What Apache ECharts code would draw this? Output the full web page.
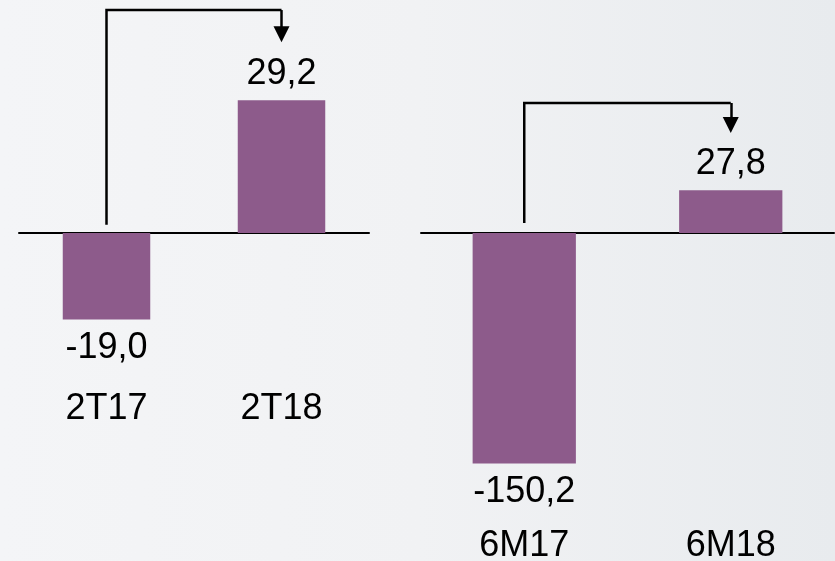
<!DOCTYPE html>
<html>
<head>
<meta charset="utf-8">
<script src="https://cdn.jsdelivr.net/npm/echarts@6/dist/echarts.min.js"></script>
<style>
  html, body { margin: 0; padding: 0; }
  #main { width: 835px; height: 561px; }
</style>
</head>
<body>
<div id="main"></div>
<script>
// trimestre
const quarterCats = ['2T17', '2T18'];
const quarterVals = [-19.0, 29.2];
// semestre
const halfCats = ['6M17', '6M18'];
const halfVals = [-150.2, 27.8];
// flechas (valores en unidades del eje): tramo sin punta + tramo final con punta
const quarterPath = [[0, 1.8], [0, 49], [1, 49]];
const quarterHead = [[1, 49], [1, 43.7]];
const halfPath = [[0, 6.5], [0, 84.7], [1, 84.7]];
const halfHead = [[1, 84.7], [1, 70.4]];

const barColor = '#8d5b8b';
const fontFamily = 'Liberation Sans, Arial, sans-serif';
const fmt = (p) => p.value.toFixed(1).replace('.', ',');

function barSeries(vals, xi, yi) {
  return {
    type: 'bar',
    xAxisIndex: xi,
    yAxisIndex: yi,
    barWidth: '50%',
    data: vals.map(v => ({
      value: v,
      label: { position: v < 0 ? 'bottom' : 'top', distance: v < 0 ? 11 : 8 }
    })),
    itemStyle: { color: barColor },
    label: {
      show: true,
      color: '#000',
      fontSize: 36,
      fontFamily: fontFamily,
      formatter: fmt
    },
    silent: true
  };
}

function lineSeries(coords, xi, yi, head) {
  return {
    type: 'lines',
    coordinateSystem: 'cartesian2d',
    xAxisIndex: xi,
    yAxisIndex: yi,
    polyline: !head,
    clip: false,
    symbol: head ? ['none', 'triangle'] : 'none',
    symbolSize: [15, 16],
    lineStyle: { color: '#000', width: 2.5, opacity: 1, curveness: 0 },
    data: [{ coords: coords }],
    silent: true,
    z: 5
  };
}

const lineAxis = (gi, cats) => ({
  type: 'category',
  gridIndex: gi,
  data: cats,
  axisLine: { onZero: true, lineStyle: { color: '#000', width: 2 } },
  axisTick: { show: false },
  axisLabel: { show: false }
});
const labelAxis = (gi, cats, margin) => ({
  type: 'category',
  gridIndex: gi,
  data: cats,
  position: 'bottom',
  axisLine: { show: false, onZero: false },
  axisTick: { show: false },
  axisLabel: {
    color: '#000',
    fontSize: 36,
    margin: margin,
    fontFamily: fontFamily
  }
});

const chart = echarts.init(document.getElementById('main'));
chart.setOption({
  backgroundColor: {
    type: 'linear', x: 0, y: 0, x2: 1, y2: 0,
    colorStops: [
      { offset: 0, color: '#f4f5f7' },
      { offset: 0.5, color: '#f1f2f4' },
      { offset: 1, color: '#e8ebee' }
    ]
  },
  animation: false,
  grid: [
    { left: 19, width: 350, top: 51, height: 327.6, outerBoundsMode: 'none' },
    { left: 421, width: 413, top: 79.5, height: 440.5, outerBoundsMode: 'none' }
  ],
  xAxis: [
    lineAxis(0, quarterCats),
    labelAxis(0, quarterCats, 12),
    lineAxis(1, halfCats),
    labelAxis(1, halfCats, 8)
  ],
  yAxis: [
    { type: 'value', gridIndex: 0, min: -32, max: 40, show: false },
    { type: 'value', gridIndex: 1, min: -187, max: 100, show: false }
  ],
  series: [
    barSeries(quarterVals, 0, 0),
    lineSeries(quarterPath, 0, 0, false),
    lineSeries(quarterHead, 0, 0, true),
    barSeries(halfVals, 2, 1),
    lineSeries(halfPath, 2, 1, false),
    lineSeries(halfHead, 2, 1, true)
  ]
});
</script>
</body>
</html>
